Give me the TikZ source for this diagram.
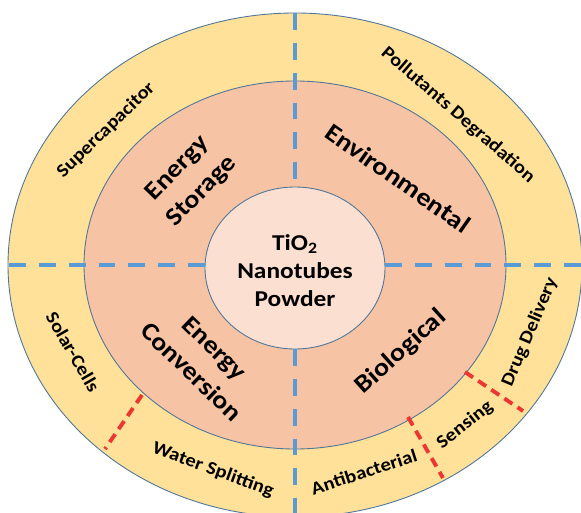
\documentclass[tikz,border=0pt]{standalone}
\usepackage{fontspec}
\setmainfont[FakeStretch=1.12]{Carlito}

\definecolor{ringyellow}{HTML}{FFE199}
\definecolor{sectorpink}{HTML}{F7C3A5}
\definecolor{corepink}{HTML}{FBE0D1}
\definecolor{edgeblue}{HTML}{4F7598}
\definecolor{dashblue}{HTML}{5B9BD5}
\definecolor{dashred}{HTML}{EC3632}

\tikzset{
  ringlabel/.style={font=\bfseries\fontsize{10.5}{12}\selectfont, inner sep=0pt},
  sectorlabel/.style={font=\bfseries\fontsize{14.3}{19}\selectfont, align=center, inner sep=0pt},
  bluedash/.style={draw=dashblue, line width=2.2pt, dash pattern=on 9.6pt off 7.4pt},
  reddash/.style={draw=dashred, line width=2.2pt, dash pattern=on 5.5pt off 3.5pt}
}

\begin{document}
\begin{tikzpicture}[x=0.02cm, y=-0.02cm]
\useasboundingbox (0,0) rectangle (581,513);

% rings
\filldraw[fill=ringyellow, draw=edgeblue, line width=0.5pt] (295,265) ellipse [x radius=287, y radius=252];
\filldraw[fill=sectorpink, draw=edgeblue, line width=0.5pt] (295,265) ellipse [x radius=211, y radius=184];
\filldraw[fill=corepink, draw=edgeblue, line width=0.5pt] (295,268) ellipse [x radius=90, y radius=81];

% quarter dividers
\draw[bluedash] (295,13) -- (295,187); %top
\draw[bluedash] (295,349) -- (295,513); %bottom
\draw[bluedash] (9,265) -- (205,265); %left
\draw[bluedash] (385,265) -- (581,265); %right

% dividers in the outer ring
\draw[reddash] (142,395) -- (105,449); %solar / water
\draw[reddash] (408,417) -- (443,478); %antibacterial / sensing
\draw[reddash] (465,372) -- (523,411); %sensing / drug

% centre
\node[font=\bfseries\fontsize{12.9}{16}\selectfont, align=center] (core) at (295,271) {TiO\textsubscript{2}\\Nanotubes\\Powder};

% middle ring
\node[sectorlabel, rotate=46] (storage) at (190,180) {Energy\\Storage};
\node[sectorlabel, rotate=-35] (environ) at (398,178) {Environmental};
\node[sectorlabel, rotate=-44] (conversion) at (203,360) {Energy\\Conversion};
\node[sectorlabel, rotate=42] (bio) at (401,352) {Biological};

% outer ring
\node[ringlabel, rotate=44] (supercap) at (106,130) {Supercapacitor};
\node[ringlabel, rotate=-41] (pollut) at (458,115) {Pollutants Degradation};
\node[ringlabel, rotate=-60] (solar) at (73,352) {Solar-Cells};
\node[ringlabel, rotate=-20] (water) at (213,470) {Water Splitting};
\node[ringlabel, rotate=18] (antibac) at (364,472) {Antibacterial};
\node[ringlabel, rotate=38] (sensing) at (465,425) {Sensing};
\node[ringlabel, rotate=67] (drug) at (530,332) {Drug Delivery};

\end{tikzpicture}
\end{document}
